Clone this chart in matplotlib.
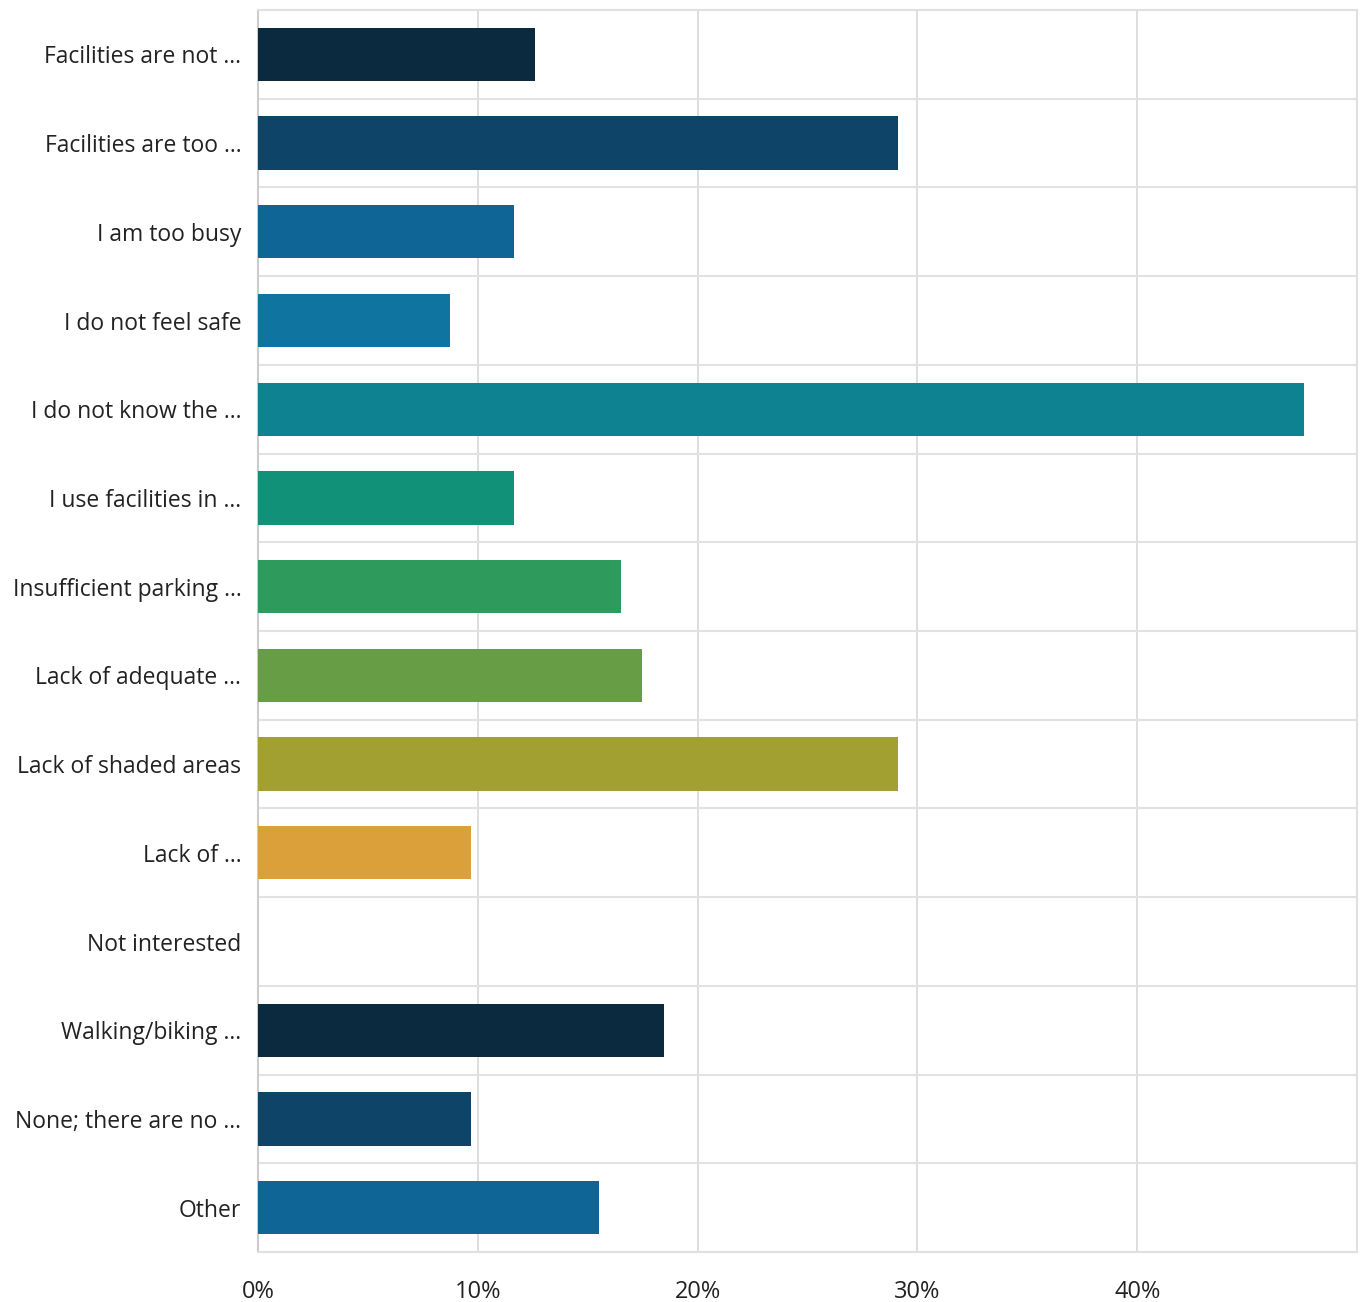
"""
Horizontal bar chart: reasons for not using facilities (share of respondents).
"""

import numpy as np
import matplotlib.pyplot as plt
from matplotlib.ticker import FuncFormatter, FixedLocator

CATEGORIES = [
    "Facilities are not ...",
    "Facilities are too ...",
    "I am too busy",
    "I do not feel safe",
    "I do not know the ...",
    "I use facilities in ...",
    "Insufficient parking ...",
    "Lack of adequate ...",
    "Lack of shaded areas",
    "Lack of ...",
    "Not interested",
    "Walking/biking ...",
    "None; there are no ...",
    "Other",
]
PERCENTS = [12.62, 29.13, 11.65, 8.74, 47.57, 11.65, 16.50,
            17.48, 29.13, 9.71, 0.0, 18.45, 9.71, 15.53]
COLORS = ["#0c2a3f", "#0d4468", "#0f6696", "#0f74a0", "#0e8290",
          "#119177", "#2e9a5c", "#679e45", "#a3a032", "#dca03a",
          "#dca03a", "#0c2a3f", "#0d4468", "#0f6696"]
X_TICKS = [0, 10, 20, 30, 40]

plt.rcParams["font.family"] = ["Open Sans", "DejaVu Sans"]

fig = plt.figure(figsize=(13.63, 13.02), dpi=100, facecolor="white")
ax = fig.add_axes([0.1893, 0.0384, 0.8063, 0.9539])

y = np.arange(len(CATEGORIES))
ax.barh(y, PERCENTS, height=0.6, color=COLORS, zorder=3)

ax.set_xlim(0, 50)
ax.set_ylim(len(CATEGORIES) - 0.5, -0.5)

ax.set_yticks(y)
ax.set_yticklabels(CATEGORIES, fontsize=16.5, color="#222222")
ax.yaxis.set_minor_locator(FixedLocator(np.arange(0.5, len(CATEGORIES) - 0.5, 1)))
ax.xaxis.set_major_locator(FixedLocator(X_TICKS))
ax.xaxis.set_major_formatter(FuncFormatter(lambda v, _: f"{v:.0f}%"))
ax.tick_params(axis="x", labelsize=17, labelcolor="#222222", length=0, pad=20)
ax.tick_params(axis="y", which="both", length=0, pad=12)

ax.grid(axis="x", which="major", color="#d8d8d8", linewidth=1.2, zorder=0)
ax.grid(axis="y", which="minor", color="#e2e2e2", linewidth=1.5, zorder=0)
ax.grid(axis="y", which="major", visible=False)

for side in ["top", "right", "bottom"]:
    ax.spines[side].set_color("#e0e0e0")
    ax.spines[side].set_linewidth(1.5)
ax.spines["left"].set_color("#cccccc")
ax.spines["left"].set_linewidth(1.5)

plt.savefig("out.png", dpi=100, facecolor="white")
plt.close()
